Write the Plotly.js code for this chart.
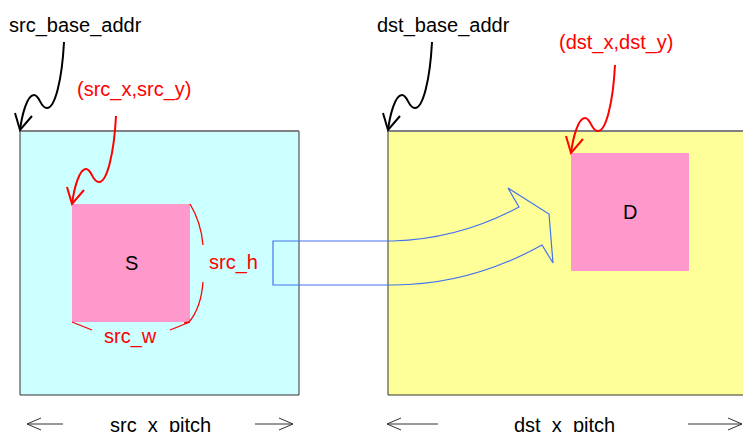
<!DOCTYPE html>
<html>
<head>
<meta charset="utf-8">
<script src="https://cdn.plot.ly/plotly-3.0.1.min.js"></script>
<style>html,body{margin:0;padding:0;background:#fff;}#chart{width:743px;height:432px;}</style>
</head>
<body>
<div id="chart"></div>
<script>
// ---- diagram data (pixel-space units of the drawing) ----
const boxNames = ['src', 'dst', 'S', 'D'];
const boxX0 = [20, 388, 72, 571];
const boxX1 = [299, 760, 190, 689];
const boxY0 = [131, 131, 204, 153];
const boxY1 = [395, 395, 322, 271];
const boxLabels = ['', '', 'S', 'D'];

const pointerLabels = ['src_base_addr', 'dst_base_addr', '(src_x,src_y)', '(dst_x,dst_y)'];
const pointerTipX = [20, 388, 72, 571];
const pointerTipY = [130, 130, 204, 153];
const pointerLabelX = [75, 443, 134, 616];
const pointerLabelY = [25, 25, 89, 42];

const dimLabels = ['src_h', 'src_w', 'src_x_pitch', 'dst_x_pitch'];
const dimLabelX = [233, 130, 160, 564];
const dimLabelY = [262, 336, 425, 425];

const pitchArrowLeft = [27, 387];
const pitchArrowRight = [293, 742];
const pitchGapLeft = [63, 438];
const pitchGapRight = [255, 688];
const pitchY = 424;

// ---- styles ----
const boxFill = ['#CCFFFF', '#FFFF99', '#FF99CC', '#FF99CC'];
const pointerColor = ['#000000', '#000000', '#FF0000', '#FF0000'];
const red = '#FF0000';
const font = 'Liberation Sans, Arial, sans-serif';

const shapes = [];
const annotations = [];

// boxes
boxNames.forEach((n, i) => {
  const big = i < 2;
  shapes.push({
    type: 'rect', xref: 'x', yref: 'y',
    x0: boxX0[i], x1: boxX1[i], y0: boxY0[i], y1: boxY1[i],
    fillcolor: boxFill[i],
    line: big ? {color: '#333333', width: 1} : {width: 0}
  });
  if (big) {
    shapes.push({type: 'line', xref: 'x', yref: 'y', x0: boxX0[i], x1: boxX1[i], y0: boxY0[i], y1: boxY0[i],
      line: {color: '#808080', width: 2}});
  }
  if (boxLabels[i]) {
    annotations.push({x: (boxX0[i] + boxX1[i]) / 2, y: (boxY0[i] + boxY1[i]) / 2, xref: 'x', yref: 'y',
      text: boxLabels[i], showarrow: false, font: {family: font, size: 20, color: '#000'}});
  }
});

// squiggly pointer arrows
function P(tx, ty, dx, dy) { return (tx + dx) + ',' + (ty + dy); }
pointerLabels.forEach((t, i) => {
  const tx = pointerTipX[i], ty = pointerTipY[i];
  const d = 'M ' + P(tx, ty, 44, -88) +
    ' C ' + P(tx, ty, 42, -50) + ' ' + P(tx, ty, 35, -22) + ' ' + P(tx, ty, 27, -22) +
    ' C ' + P(tx, ty, 20, -22) + ' ' + P(tx, ty, 20, -35) + ' ' + P(tx, ty, 14, -35) +
    ' C ' + P(tx, ty, 7, -35) + ' ' + P(tx, ty, 2, -15) + ' ' + P(tx, ty, 0, 0);
  shapes.push({type: 'path', xref: 'x', yref: 'y', path: d, line: {color: pointerColor[i], width: 2}});
  const h = 'M ' + P(tx, ty, -5, -17) + ' L ' + P(tx, ty, 0, 0) + ' L ' + P(tx, ty, 12, -14);
  shapes.push({type: 'path', xref: 'x', yref: 'y', path: h, line: {color: pointerColor[i], width: 2}});
  annotations.push({x: pointerLabelX[i], y: pointerLabelY[i], xref: 'x', yref: 'y', text: t, showarrow: false,
    font: {family: font, size: 20, color: pointerColor[i]}});
});

// brackets around S
const S = 2;
shapes.push({type: 'path', xref: 'x', yref: 'y',
  path: 'M ' + boxX1[S] + ',' + boxY0[S] + ' Q 201,222 203,245', line: {color: red, width: 1.3}});
shapes.push({type: 'path', xref: 'x', yref: 'y',
  path: 'M 203,282 Q 201,308 ' + (boxX1[S] - 1) + ',' + boxY1[S] + ' L 184,323', line: {color: red, width: 1.3}});
shapes.push({type: 'path', xref: 'x', yref: 'y',
  path: 'M ' + boxX0[S] + ',' + boxY1[S] + ' L 92,330', line: {color: red, width: 1.3}});
shapes.push({type: 'path', xref: 'x', yref: 'y',
  path: 'M 170,330 L ' + boxX1[S] + ',' + boxY1[S], line: {color: red, width: 1.3}});

// dimension labels
dimLabels.forEach((t, i) => {
  annotations.push({x: dimLabelX[i], y: dimLabelY[i], xref: 'x', yref: 'y', text: t, showarrow: false,
    font: {family: font, size: 20, color: i < 2 ? red : '#000'}});
});

// pitch arrows
for (let i = 0; i < 2; i++) {
  const L = pitchArrowLeft[i], R = pitchArrowRight[i];
  shapes.push({type: 'path', xref: 'x', yref: 'y',
    path: 'M ' + L + ',' + pitchY + ' L ' + pitchGapLeft[i] + ',' + pitchY, line: {color: '#333', width: 1}});
  shapes.push({type: 'path', xref: 'x', yref: 'y',
    path: 'M ' + (L + 14) + ',' + (pitchY - 6) + ' L ' + L + ',' + pitchY + ' L ' + (L + 14) + ',' + (pitchY + 6),
    line: {color: '#333', width: 1}});
  shapes.push({type: 'path', xref: 'x', yref: 'y',
    path: 'M ' + pitchGapRight[i] + ',' + pitchY + ' L ' + R + ',' + pitchY, line: {color: '#333', width: 1}});
  shapes.push({type: 'path', xref: 'x', yref: 'y',
    path: 'M ' + (R - 14) + ',' + (pitchY - 6) + ' L ' + R + ',' + pitchY + ' L ' + (R - 14) + ',' + (pitchY + 6),
    line: {color: '#333', width: 1}});
}

// big blue transfer arrow
shapes.push({type: 'path', xref: 'x', yref: 'y',
  path: 'M 273,241 L 393,241 Q 460,239 519,207 L 508,188 L 549,214 L 553,263 L 542,245 Q 470,285 393,285 L 273,285 Z',
  line: {color: '#4472EE', width: 1.2}, fillcolor: 'rgba(0,0,0,0)'});

const layout = {
  width: 743, height: 432,
  margin: {l: 0, r: 0, t: 0, b: 0},
  paper_bgcolor: '#ffffff', plot_bgcolor: '#ffffff',
  xaxis: {range: [0, 743], visible: false, fixedrange: true},
  yaxis: {range: [432, 0], visible: false, fixedrange: true},
  showlegend: false,
  shapes: shapes,
  annotations: annotations
};
Plotly.newPlot('chart', [{x: [], y: [], type: 'scatter'}], layout, {staticPlot: true, displayModeBar: false});
</script>
</body>
</html>
